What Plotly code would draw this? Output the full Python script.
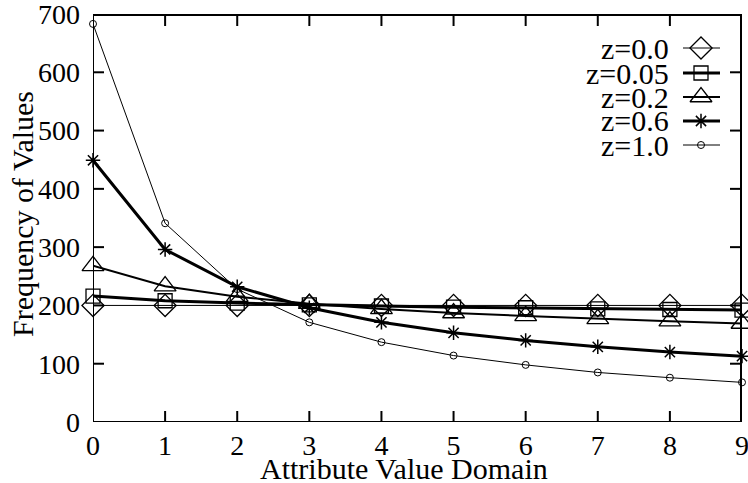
import plotly.graph_objects as go

# ---- data ----
x_vals = [0, 1, 2, 3, 4, 5, 6, 7, 8, 9]
z00 = [200, 200, 200, 200, 200, 200, 200, 200, 200, 200]
z005 = [216, 208, 204, 201, 199, 197, 196, 194, 193, 192]
z02 = [268, 233, 215, 203, 194, 187, 182, 177, 173, 169]
z06 = [449, 296, 232, 196, 171, 153, 140, 129, 120, 113]
z10 = [683, 341, 228, 171, 137, 114, 98, 85, 76, 68]
series_names = ["z=0.0", "z=0.05", "z=0.2", "z=0.6", "z=1.0"]
x_ticks = [0, 1, 2, 3, 4, 5, 6, 7, 8, 9]
y_ticks = [0, 100, 200, 300, 400, 500, 600, 700]

# ---- styles ----
series_vals = [z00, z005, z02, z06, z10]
symbols = ["diamond-open", "square-open", "triangle-up-open", "asterisk-open", "circle-open"]
msizes = [17, 14, 19, 12, 7]
lwidths = [1, 3, 2, 3, 1]
mlw = [1.3, 1.3, 1.3, 1.5, 1]

FONT = "Liberation Serif"
W, H = 748, 483
L, R, T, B = 93, 6, 14, 61
pw, ph = W - L - R, H - T - B
X_RANGE = [0, 9]
Y_RANGE = [0, 700]
TICKLEN = 11

fig = go.Figure()

x0, x1 = X_RANGE
y0, y1 = Y_RANGE
dx = TICKLEN / pw * (x1 - x0)
dy = TICKLEN / ph * (y1 - y0)
ex = 1 / pw * (x1 - x0)   # one pixel in x data units
ey = 1 / ph * (y1 - y0)   # one pixel in y data units


def seg(xs, ys):
    fig.add_trace(go.Scatter(x=xs, y=ys, mode="lines", line=dict(color="black", width=2),
                             showlegend=False, hoverinfo="skip", cliponaxis=False))

# box frame (top and right edges set one pixel inward) with inside ticks on all sides
seg([x0, x1], [y0, y0])
seg([x0, x0], [y0, y1])
seg([x0, x1], [y1 - ey, y1 - ey])
seg([x1 - ex, x1 - ex], [y0, y1])
for tv in x_ticks:
    seg([tv, tv], [y0, y0 + dy])
    seg([tv, tv], [y1 - ey, y1 - ey - dy])
for tv in y_ticks:
    seg([x0, x0 + dx], [tv, tv])
    seg([x1 - ex, x1 - ex - dx], [tv, tv])

for name, vals, sym, ms, lw, mw in zip(series_names, series_vals, symbols, msizes, lwidths, mlw):
    fig.add_trace(go.Scatter(
        x=x_vals, y=vals, mode="lines+markers", name=name,
        line=dict(color="black", width=lw),
        marker=dict(symbol=sym, size=ms, color="black", line=dict(color="black", width=mw)),
        cliponaxis=False, showlegend=False))

# manual legend (text left, sample right); pixel positions mapped through the axis scales
def px_to_x(p):
    return x0 + (p - L) / pw * (x1 - x0)

def px_to_y(p):
    return y0 + (H - B - p) / ph * (y1 - y0)

def px_x(p):
    return (p - L) / pw

def px_y(p):
    return (H - B - p) / ph

row_y = [48, 73, 97, 121, 145]
for name, sym, ms, lw, mw, ry in zip(series_names, symbols, msizes, lwidths, mlw, row_y):
    yy = px_to_y(ry)
    fig.add_trace(go.Scatter(
        x=[px_to_x(683), px_to_x(720)], y=[yy, yy], mode="lines",
        line=dict(color="black", width=lw),
        showlegend=False, hoverinfo="skip", cliponaxis=False))
    fig.add_trace(go.Scatter(
        x=[px_to_x(701)], y=[yy], mode="markers",
        marker=dict(symbol=sym, size=ms, color="black", line=dict(color="black", width=mw)),
        showlegend=False, hoverinfo="skip", cliponaxis=False))
    fig.add_annotation(x=px_x(671), y=px_y(ry), xref="paper", yref="paper",
                       text=name, showarrow=False, xanchor="right", yanchor="middle",
                       font=dict(family=FONT, size=30, color="black"))

axis_common = dict(showgrid=False, zeroline=False, showline=False, ticks="",
                   ticklabeloverflow="allow", automargin=False,
                   tickfont=dict(family=FONT, size=28, color="black"))

fig.update_layout(
    width=W, height=H,
    margin=dict(l=L, r=R, t=T, b=B, autoexpand=False),
    paper_bgcolor="white", plot_bgcolor="white",
    xaxis=dict(range=X_RANGE, tickvals=x_ticks, ticklabelstandoff=4, **axis_common),
    yaxis=dict(range=Y_RANGE, tickvals=y_ticks, ticklabelstandoff=12, **axis_common),
    showlegend=False,
)

fig.add_annotation(x=px_x(404), y=-(468 - (H - B)) / ph, xref="paper", yref="paper",
                   text="Attribute Value Domain", showarrow=False,
                   xanchor="center", yanchor="middle",
                   font=dict(family=FONT, size=30, color="black"))
fig.add_annotation(x=-(L - 22) / pw, y=px_y(214), xref="paper", yref="paper",
                   text="Frequency of Values", showarrow=False, textangle=-90,
                   xanchor="center", yanchor="middle",
                   font=dict(family=FONT, size=30, color="black"))

fig.write_html("out.html", config={"displayModeBar": False},
               post_script="document.body.style.margin='0';document.body.style.overflow='hidden';")
